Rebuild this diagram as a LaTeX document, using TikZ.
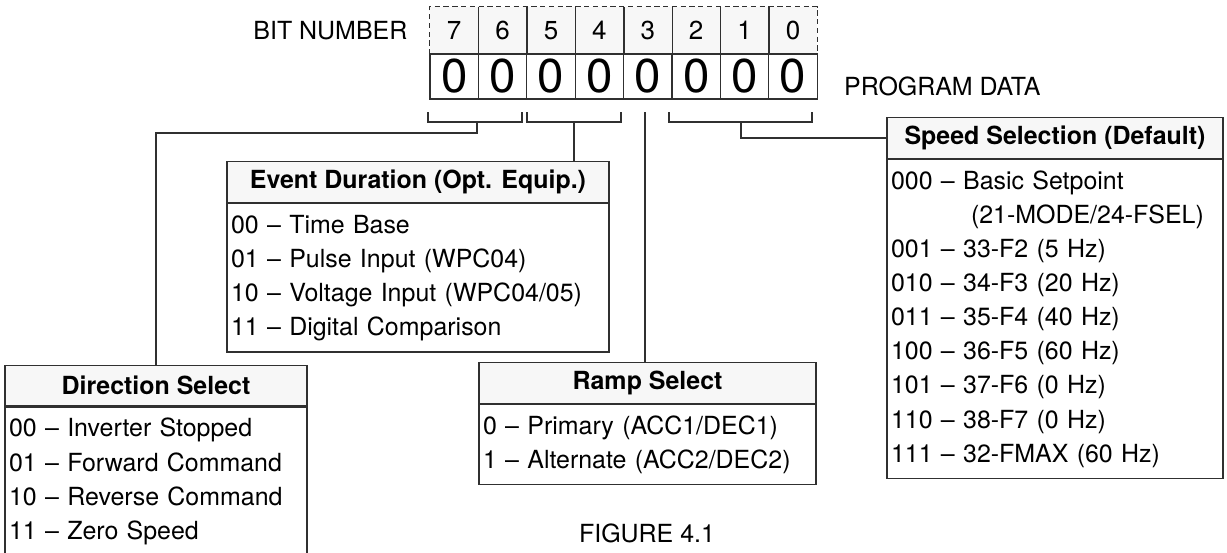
\documentclass[tikz,border=0pt]{standalone}
\usepackage{fontspec}
\setmainfont{TeX Gyre Heros}
\usetikzlibrary{positioning}
\definecolor{hdrgray}{HTML}{F7F7F7}
\definecolor{linegray}{HTML}{303030}
\tikzset{
  every picture/.style={x=0.02cm, y=-0.02cm, line join=miter},
  txt/.style={font=\fontsize{14.2}{19.4}\selectfont, inner sep=0pt},
  link/.style={draw=linegray, line width=0.75pt},
  bitcell/.style={fill=hdrgray, minimum width=0.968cm, minimum height=0.94cm, inner sep=0pt, font=\fontsize{14.8}{18}\selectfont},
  datacell/.style={link, minimum width=0.968cm, minimum height=0.9cm, inner sep=0pt, font=\fontsize{27}{30}\selectfont},
  boxhead/.style={link, fill=hdrgray, minimum height=0.81cm, inner sep=0pt, font=\fontsize{14.2}{19.4}\selectfont\bfseries},
  boxlist/.style={link, align=left, inner xsep=0.08cm, inner ysep=0.12cm, font=\fontsize{14.2}{19.4}\selectfont,
    execute at begin node=\strut, execute at end node=\strut},
}

\begin{document}
\begin{tikzpicture}
\useasboundingbox (0,0) rectangle (1227,552);

% register: bit numbers and program data
\foreach \b [count=\i from 0] in {7,6,...,0} {
  \node[bitcell] (b\b) at (454.2+48.4*\i,30.5) {\b};
  \node[datacell] (d\b) at (454.2+48.4*\i,76.5) {0};
}
\draw[link, dash pattern=on 3pt off 2pt] (b7.south west) -- (b7.north west) -- (b0.north east) -- (b0.south east);
\foreach \b in {7,6,...,1}
  \draw[link] (b\b.north east) -- (b\b.south east);
\node[txt, left=0.44cm of b7] (bitlbl) {BIT NUMBER};
\node[txt, anchor=base west] (pdlbl) at ([shift={(26,-4)}]d0.south east) {PROGRAM DATA};

% boxes
\node[boxhead, minimum width=6.04cm] (dirhead) at (156,385.5) {Direction Select};
\node[boxlist, text width=5.88cm, below=0pt of dirhead] (dirlist)
  {00 -- Inverter Stopped\\01 -- Forward Command\\10 -- Reverse Command\\11 -- Zero Speed};

\node[boxhead, minimum width=7.64cm] (evhead) at (418,182) {Event Duration (Opt. Equip.)};
\node[boxlist, text width=7.48cm, below=0pt of evhead] (evlist)
  {00 -- Time Base\\01 -- Pulse Input (WPC04)\\10 -- Voltage Input (WPC04/05)\\11 -- Digital Comparison};

\node[boxhead, minimum width=6.74cm] (rphead) at (647.5,383) {Ramp Select};
\node[boxlist, text width=6.58cm, below=0pt of rphead] (rplist)
  {0 -- Primary (ACC1/DEC1)\\1 -- Alternate (ACC2/DEC2)};

\node[boxhead, minimum width=6.72cm] (sphead) at (1055,138) {Speed Selection (Default)};
\node[boxlist, text width=6.56cm, below=0pt of sphead] (splist)
  {000 -- Basic Setpoint\\\hspace*{1.6cm}(21-MODE/24-FSEL)\\001 -- 33-F2 (5 Hz)\\010 -- 34-F3 (20 Hz)\\011 -- 35-F4 (40 Hz)\\100 -- 36-F5 (60 Hz)\\101 -- 37-F6 (0 Hz)\\110 -- 38-F7 (0 Hz)\\111 -- 32-FMAX (60 Hz)};

% brackets under the bits
\coordinate (br76) at (477,122);
\coordinate (br54) at (574,122);
\coordinate (br3) at (645,112);
\coordinate (br210) at (741,122);
\draw[link] (428,112) -- (428,122) -- (522,122) -- (522,112);
\draw[link] (527,112) -- (527,122) -- (621,122) -- (621,112);
\draw[link] (669,112) -- (669,122) -- (812,122) -- (812,112);
\draw[link] (br76) -- ++(0,11) -| (dirhead.north);
\draw[link] (br54) -- (br54 |- evhead.north);
\draw[link] (br3) -- (br3 |- rphead.north);
\draw[link] (br210) |- (sphead.west);

\node[txt] (figlbl) at (647,533) {FIGURE 4.1};
\end{tikzpicture}
\end{document}
